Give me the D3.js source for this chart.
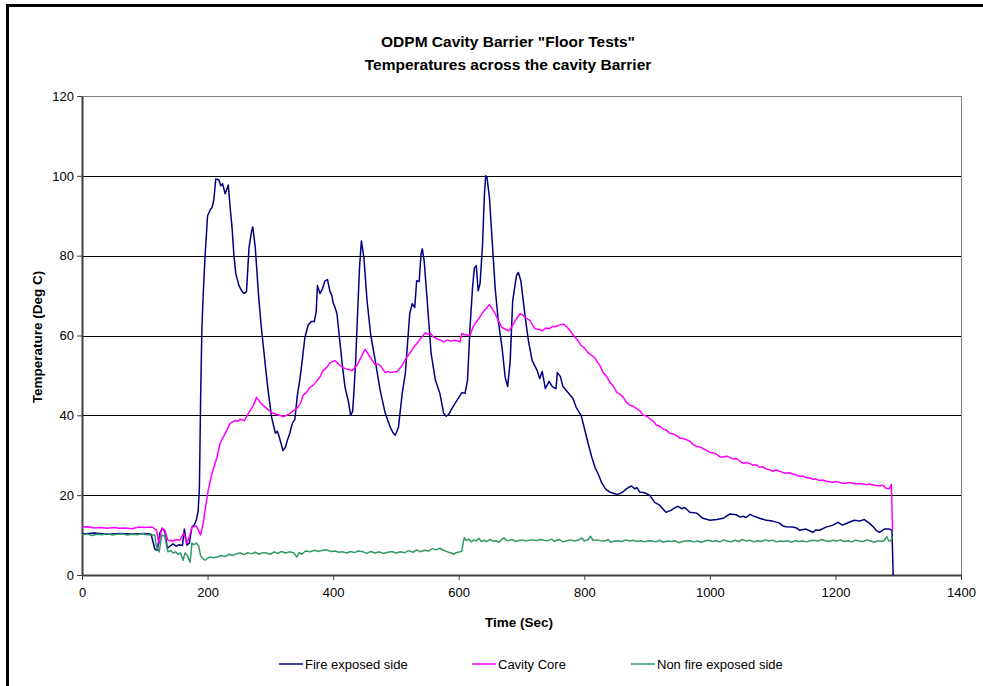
<!DOCTYPE html>
<html>
<head>
<meta charset="utf-8">
<script src="https://cdn.jsdelivr.net/npm/d3@7"></script>
<style>
    body { margin: 0; background: #fff; }
    text { font-family: "Liberation Sans", Arial, sans-serif; }
</style>
</head>
<body>
<div id="chart"></div>
<script>
// tick values
const xTicks = [0, 200, 400, 600, 800, 1000, 1200, 1400];
const yTicks = [0, 20, 40, 60, 80, 100, 120];

const seriesNames = ["Fire exposed side", "Cavity Core", "Non fire exposed side"];
const seriesColors = ["#000080", "#ff00ff", "#339966"];

// [time (sec), temperature (deg C)]
const fireExposed = [
    [0,10.3],[20,10.5],[40,10.2],[60,10.4],[80,10.3],[100,10.4],[110,10.2],[116,6.5],[120,6.2],[124,10.5],
    [128,11.7],[132,10.8],[136,6.7],[140,7.2],[145,7.8],[150,7.2],[155,7.6],[160,7.4],[163,11.5],[167,7.5],
    [171,8],[175,12],[179,12.6],[182,13.7],[185,16],[187,22],[189,45],[191,62],[193,70],[196,80],
    [200,90],[205,91.7],[207,92],[210,94],[213,99.2],[218,99],[221,97.5],[224,98],[228,95.5],[233,97.7],
    [236,92],[239,87],[242,80],[245,75.5],[250,72.5],[255,71],[258,70.5],[262,71],[266,82],[270,86],
    [272,87.2],[276,82],[281,70.5],[285,63],[289,57],[293,51],[297,45.5],[302,39.5],[308,35.5],[311,36],
    [313,35.2],[317,33],[320,31.2],[324,32],[327,33.7],[331,35.5],[335,38],[339,39],[343,45],[347,49],
    [351,54],[355,59.5],[360,62.5],[365,63.5],[370,63.5],[373,66],[375,72.5],[379,70.5],[383,71.7],[387,73.7],
    [391,74],[395,71],[398,70],[400,68.2],[403,67],[406,65.5],[411,58],[415,52],[419,47],[424,43.7],
    [428,40],[431,41],[433,45.5],[436,54],[438,62],[442,77],[445,83.7],[449,79.5],[454,68.7],[460,60],
    [467,53.7],[475,46.2],[483,40.5],[491,37],[496,35.5],[499,35],[504,37],[510,45.5],[515,50.5],[518,57],
    [522,65.5],[526,68],[530,67],[533,73.7],[537,73.5],[540,80.5],[542,81.7],[545,78.7],[551,66.2],[556,55.5],
    [563,48.7],[570,45.5],[576,40.5],[580,39.8],[584,40.2],[589,41.7],[597,43.7],[605,45.7],[610,45.5],[614,48.7],
    [618,62],[622,72],[625,77],[628,77.5],[631,71.2],[634,73],[638,83],[641,95.5],[643,100],[645,99.7],
    [649,94.5],[653,84.5],[658,72],[663,63.7],[669,57],[674,49.5],[678,47.2],[682,53.7],[686,68.7],[692,75],
    [695,75.8],[699,73.7],[706,64.5],[711,58.7],[717,53.7],[725,51.2],[729,49.2],[733,51],[738,46.7],[744,48.5],
    [749,47.2],[755,46.7],[757,50.7],[762,49.7],[766,47.2],[774,45.7],[782,44.2],[787,42],[795,40],[801,36.2],
    [806,33],[812,29.5],[817,27],[823,25],[828,23],[834,21.5],[840,20.8],[846,20.5],[852,20.2],[857,20.4],
    [862,20.9],[868,21.7],[875,22.3],[880,21.6],[884,21.9],[888,20.8],[896,20.6],[904,20],[912,18.2],[920,17.5],
    [930,15.7],[938,16.2],[944,16.8],[949,17.2],[955,16.6],[960,16.9],[968,15.7],[979,15.5],[989,14.2],[1000,13.7],
    [1011,13.9],[1021,14.2],[1032,15.3],[1042,15.1],[1048,14.5],[1053,14.7],[1058,14.4],[1064,15.2],[1069,14.8],[1079,14.2],
    [1090,13.7],[1100,13.5],[1111,13],[1116,12.3],[1121,12.1],[1132,12],[1138,11.8],[1143,11.2],[1153,11.5],[1164,10.7],
    [1169,11.3],[1174,11.2],[1180,11.6],[1185,12],[1196,12.5],[1204,13.2],[1211,12.5],[1222,13.2],[1230,13.7],[1238,13.5],
    [1246,13.9],[1254,13],[1260,12.1],[1265,11.2],[1270,10.7],[1278,11.5],[1286,11.5],[1290,11.2],[1292,0]
];

const cavityCore = [
    [0,12],[10,12.1],[20,11.8],[30,11.9],[40,11.7],[50,11.9],[60,11.7],[70,11.8],[80,11.6],[90,12],
    [100,11.9],[110,12],[113,11.9],[119,11.2],[121,9],[123,8],[125,10],[127,11.7],[132,11.2],[135,9.5],
    [137,8.7],[145,8.5],[150,8.9],[156,8.7],[162,10.5],[165,9],[167,8],[171,9.5],[175,12],[182,12.3],
    [186,11],[189,10],[193,13],[196,16.2],[201,21.2],[207,25.5],[215,29.5],[220,33],[228,35.5],[236,38],
    [244,38.7],[248,38.5],[252,39],[259,38.7],[265,40.5],[273,42.5],[278,44.5],[284,43.2],[292,42],[302,40.7],
    [310,40.2],[321,39.7],[329,40.2],[337,41.2],[342,41.7],[348,43],[352,45],[358,45.8],[363,47],[368,47.5],
    [374,48.7],[379,49.6],[384,51.2],[390,52],[395,53.2],[403,53.7],[411,52.5],[415,52.1],[419,51.7],[425,51.5],
    [430,51.2],[438,52.5],[446,55],[451,56.5],[455,55.6],[459,54.5],[467,52.7],[471,52.9],[475,52.5],[483,50.7],
    [487,51],[491,50.7],[502,51],[510,52.5],[517,54.5],[522,55.5],[528,57],[534,58.1],[539,59.2],[547,60.7],
    [551,60.3],[555,60.5],[560,59.6],[565,59.2],[570,58.9],[576,58.4],[582,58.9],[587,58.6],[595,58.8],[602,58.4],
    [605,60.5],[612,60.1],[618,60],[622,61.8],[626,63],[632,64.2],[637,65.5],[645,67],[649,67.7],[653,66.8],
    [658,65.5],[663,63.8],[669,62],[675,61.5],[680,61.2],[685,62.3],[690,63.7],[698,65.5],[702,65.1],[706,64.5],
    [714,63.7],[718,62.5],[722,61.7],[728,61.5],[733,61.2],[739,61.9],[744,61.7],[750,62.3],[754,62.2],[760,62.6],
    [767,62.9],[771,62.3],[775,61.7],[783,60],[789,58.9],[795,57.5],[800,56.9],[806,55.7],[811,55.1],[817,54.3],
    [822,53.1],[825,52.5],[830,50.7],[836,49.7],[841,48.2],[846,47.4],[852,45.7],[857,45.3],[862,44.5],[868,43.1],
    [873,42.5],[878,42.3],[883,41.7],[889,41.1],[894,40],[899,39.8],[904,39.2],[910,38.5],[915,37.5],[921,37.2],
    [926,36.5],[931,36.3],[936,35.5],[942,35.3],[947,34.9],[952,34.3],[957,34.2],[963,33.9],[968,33.5],[974,32.6],
    [979,32.2],[984,32.1],[989,31.7],[995,31.2],[1000,30.7],[1006,30.6],[1011,30.2],[1016,29.6],[1021,29.5],[1027,29.8],
    [1032,29.4],[1037,29.1],[1042,29.2],[1048,28.5],[1053,28],[1058,28.2],[1064,27.9],[1069,27.5],[1074,27.6],[1079,27],
    [1085,27.1],[1090,26.5],[1095,26.4],[1100,26],[1106,26.3],[1111,26],[1116,25.7],[1121,25.5],[1127,25.6],[1132,25.3],
    [1138,25],[1143,24.7],[1148,24.8],[1153,24.4],[1159,24.3],[1164,24],[1169,24.1],[1174,23.7],[1180,23.8],[1185,23.5],
    [1190,23.4],[1196,23.2],[1201,23.4],[1206,23.2],[1212,23],[1217,23],[1222,23.2],[1228,23],[1233,22.8],[1238,22.9],
    [1244,22.8],[1249,22.6],[1254,22.8],[1259,22.6],[1265,22.4],[1270,22.3],[1275,22.5],[1281,21.7],[1286,21.7],[1289,22.7],
    [1291,11.2]
];

const nonFireExposed = [
    [0,10],[8,10.3],[16,9.9],[24,10.2],[32,10.1],[40,10.4],[48,10],[56,10.2],[64,10.3],[72,10],
    [80,10.2],[88,10.1],[96,10.4],[104,10.1],[112,10],[116,10],[118,7.5],[120,6.7],[123,5.8],[125,8],
    [127,10],[132,9.7],[135,7],[137,5.8],[141,6.2],[145,5.5],[149,5.8],[153,5.2],[157,5.5],[161,3.7],
    [164,5.5],[168,4.8],[172,3.2],[174,6],[175,8],[178,7.6],[182,8],[186,7.2],[189,4.8],[192,4.2],
    [196,3.7],[200,4.2],[204,4.5],[210,4.3],[215,4.5],[222,4.9],[228,4.6],[234,5.2],[240,4.9],[246,5.3],
    [252,5.5],[258,5.1],[264,5.6],[270,5.3],[276,5.7],[282,5.2],[288,5.6],[294,5.5],[300,5.2],[306,5.8],
    [312,5.4],[318,5.9],[324,5.5],[330,5.8],[337,5.6],[342,4.5],[346,5.6],[350,5.2],[356,6],[363,5.8],
    [370,6.2],[376,5.9],[383,6.2],[390,6.3],[396,5.9],[403,6],[409,5.7],[416,5.8],[422,5.5],[428,5.9],
    [434,5.6],[440,6],[448,5.8],[454,5.4],[460,5.9],[467,5.5],[474,5.8],[480,5.4],[487,5.7],[494,5.9],
    [500,5.5],[507,5.8],[514,5.6],[520,6.1],[527,5.7],[533,6.3],[539,5.8],[545,6.2],[552,6],[558,6.6],
    [564,6.3],[570,6.7],[576,6.2],[582,5.8],[588,5.5],[592,5.2],[596,5.6],[602,5.8],[605,6],[607,8],
    [609,9.4],[612,8.6],[616,9],[620,8.3],[624,8.8],[628,8.5],[632,9.2],[636,8.4],[640,8.7],[645,8.4],
    [650,8.9],[655,8.5],[660,8.6],[664,8.2],[668,8.8],[672,9.3],[676,8.7],[680,8.6],[685,8.9],[690,8.4],
    [695,8.6],[700,8.8],[706,8.6],[712,8.7],[718,8.8],[724,8.6],[730,8.9],[736,8.7],[742,8.6],[748,9],
    [752,8.4],[756,8.7],[760,8.9],[766,8.3],[772,8.6],[778,8.8],[784,8.5],[790,8.7],[796,9.3],[800,8.5],
    [806,8.9],[810,9.7],[814,8.7],[820,8.8],[826,8.6],[832,8.5],[838,8.9],[842,8.2],[848,8.5],[854,8.6],
    [860,8.4],[866,8.8],[872,8.5],[878,8.7],[884,8.4],[890,8.6],[896,8.3],[902,8.6],[908,8.5],[914,8.3],
    [920,8.7],[926,8.2],[932,8.5],[938,8.4],[944,8.6],[950,8.1],[956,8.4],[962,8.5],[968,8.6],[974,8.3],
    [980,8.5],[986,8.2],[992,8.5],[998,8.7],[1004,8.4],[1010,8.6],[1016,8.3],[1022,8.8],[1028,8.5],[1034,8.3],
    [1040,8.7],[1046,8.4],[1052,8.9],[1058,8.5],[1064,8.7],[1070,8.3],[1076,8.6],[1082,8.4],[1088,8.8],[1094,8.5],
    [1100,8.7],[1106,8.3],[1112,8.5],[1118,8.4],[1124,8.6],[1130,8.2],[1136,8.6],[1142,8.4],[1148,8.5],[1154,8.3],
    [1160,8.6],[1166,8.7],[1172,8.5],[1178,8.9],[1184,8.6],[1190,8.4],[1196,8.7],[1202,8.5],[1208,8.8],[1214,8.4],
    [1220,8.6],[1226,8.3],[1232,8.7],[1238,8.5],[1244,8.4],[1250,8.8],[1256,8.5],[1262,8.2],[1268,8.6],[1274,8.4],
    [1278,8.7],[1282,9.6],[1285,8.5],[1288,8.6],[1291,9.5]
];

const allSeries = [fireExposed, cavityCore, nonFireExposed];

const W = 983, H = 686;
const margin = { top: 96, right: 22, bottom: 111, left: 82 };
const width = W - margin.left - margin.right;
const height = H - margin.top - margin.bottom;

const root = d3.select("#chart")
    .append("svg")
    .attr("width", W)
    .attr("height", H);

// chart frame (only top and left edges show)
root.append("path")
    .attr("d", `M7.5,${H} V5.5 H${W}`)
    .attr("fill", "none")
    .attr("stroke", "#000")
    .attr("stroke-width", 3);

// title
const title = root.append("text")
    .attr("text-anchor", "middle")
    .style("font-size", "15.5px")
    .style("font-weight", "bold");
title.append("tspan").attr("x", 508).attr("y", 47).text('ODPM Cavity Barrier "Floor Tests"');
title.append("tspan").attr("x", 508).attr("y", 70).text("Temperatures across the cavity Barrier");

const svg = root.append("g")
    .attr("transform", `translate(${margin.left},${margin.top})`);

const x = d3.scaleLinear().domain([0, 1400]).range([0, width]);
const y = d3.scaleLinear().domain([0, 120]).range([height, 0]);

// gridlines
svg.append("g")
    .selectAll("line")
    .data(yTicks.filter(d => d > 0 && d < 120))
    .join("line")
    .attr("x1", 0)
    .attr("x2", width)
    .attr("y1", d => Math.round(y(d)) + 0.5)
    .attr("y2", d => Math.round(y(d)) + 0.5)
    .attr("stroke", "#000")
    .attr("stroke-width", 1);

// plot border
svg.append("rect")
    .attr("x", 0.5)
    .attr("y", 0.5)
    .attr("width", width)
    .attr("height", height)
    .attr("fill", "none")
    .attr("stroke", "#808080")
    .attr("stroke-width", 1);

// Y axis
const yAxis = svg.append("g")
    .call(d3.axisLeft(y).tickValues(yTicks).tickSize(5).tickSizeOuter(0).tickPadding(3));
yAxis.selectAll("text").style("font-size", "13px").attr("fill", "#000");

// X axis
const xAxis = svg.append("g")
    .attr("transform", `translate(0,${height})`)
    .call(d3.axisBottom(x).tickValues(xTicks).tickFormat(d3.format("d"))
        .tickSize(5).tickSizeOuter(0).tickPadding(8));
xAxis.selectAll("text").style("font-size", "13px").attr("fill", "#000");
[yAxis, xAxis].forEach(a => {
    a.select(".domain").attr("stroke", "#404040").attr("stroke-width", 2);
    a.selectAll(".tick line").attr("stroke", "#404040");
    a.attr("font-family", null);
});

// series lines
const line = d3.line()
    .x(d => x(d[0]))
    .y(d => y(d[1]));

svg.selectAll(".series")
    .data(allSeries)
    .join("path")
    .attr("class", "series")
    .attr("d", line)
    .attr("fill", "none")
    .attr("stroke", (d, i) => seriesColors[i])
    .attr("stroke-width", 1.5)
    .attr("stroke-linejoin", "round");

// axis titles
root.append("text")
    .attr("x", 519)
    .attr("y", 627)
    .attr("text-anchor", "middle")
    .style("font-size", "13.5px")
    .style("font-weight", "bold")
    .text("Time (Sec)");

root.append("text")
    .attr("transform", "translate(42,337) rotate(-90)")
    .attr("text-anchor", "middle")
    .style("font-size", "13.5px")
    .style("font-weight", "bold")
    .text("Temperature (Deg C)");

// legend
const legendX = [279, 472, 631];
const legend = root.append("g")
    .selectAll("g")
    .data(seriesNames)
    .join("g")
    .attr("transform", (d, i) => `translate(${legendX[i]},664)`);

legend.append("line")
    .attr("x1", 0)
    .attr("x2", 24)
    .attr("stroke", (d, i) => seriesColors[i])
    .attr("stroke-width", 1.5);

legend.append("text")
    .attr("x", 26)
    .attr("dy", "0.35em")
    .style("font-size", "13px")
    .text(d => d);
</script>
</body>
</html>
